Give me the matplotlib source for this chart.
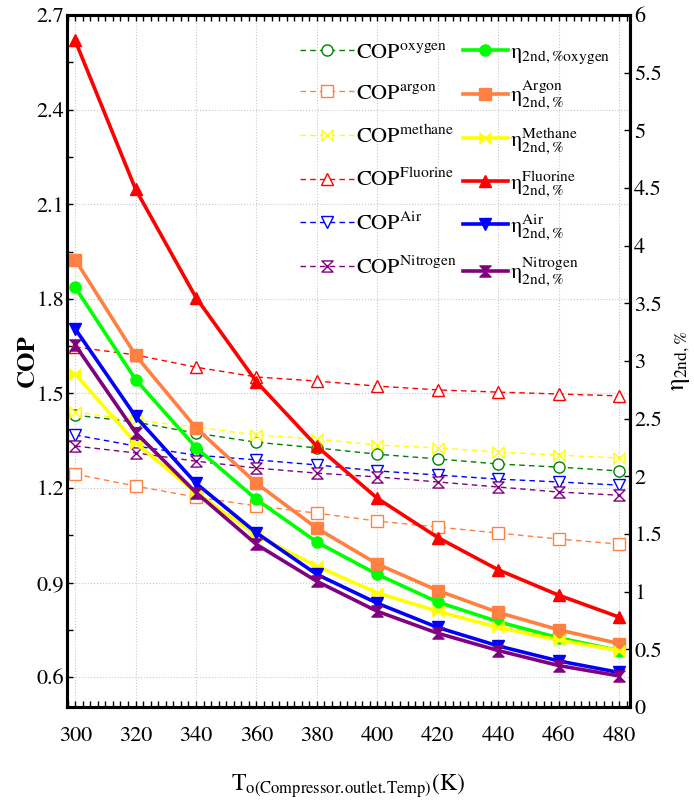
import matplotlib.pyplot as plt
import numpy as np
from matplotlib.path import Path
from matplotlib.ticker import MultipleLocator

plt.rcParams['font.family'] = 'STIXGeneral'
plt.rcParams['mathtext.fontset'] = 'stix'

# compressor outlet temperature (K)
T = [300, 320, 340, 360, 380, 400, 420, 440, 460, 480]

# COP (left axis)
cop_oxygen = [1.431, 1.409, 1.374, 1.345, 1.327, 1.307, 1.292, 1.276, 1.266, 1.254]
cop_argon = [1.244, 1.206, 1.171, 1.143, 1.120, 1.095, 1.076, 1.057, 1.038, 1.022]
cop_methane = [1.441, 1.415, 1.393, 1.368, 1.355, 1.336, 1.327, 1.314, 1.304, 1.295]
cop_fluorine = [1.647, 1.622, 1.583, 1.552, 1.539, 1.523, 1.511, 1.504, 1.498, 1.492]
cop_air = [1.368, 1.333, 1.304, 1.289, 1.273, 1.254, 1.241, 1.228, 1.219, 1.209]
cop_nitrogen = [1.333, 1.311, 1.285, 1.263, 1.247, 1.235, 1.219, 1.203, 1.187, 1.177]

# second law efficiency (right axis)
h_oxygen = [3.64, 2.84, 2.25, 1.80, 1.43, 1.15, 0.91, 0.74, 0.60, 0.49]
h_argon = [3.88, 3.05, 2.42, 1.94, 1.55, 1.24, 1.01, 0.82, 0.67, 0.55]
h_methane = [2.89, 2.29, 1.86, 1.49, 1.22, 0.99, 0.83, 0.69, 0.58, 0.49]
h_fluorine = [5.78, 4.49, 3.55, 2.82, 2.26, 1.81, 1.47, 1.19, 0.97, 0.78]
h_air = [3.28, 2.52, 1.94, 1.51, 1.15, 0.90, 0.69, 0.53, 0.40, 0.30]
h_nitrogen = [3.14, 2.38, 1.86, 1.41, 1.09, 0.83, 0.64, 0.49, 0.36, 0.27]

bowtie = Path([(-1, -1), (1, 1), (1, -1), (-1, 1), (-1, -1)],
              [Path.MOVETO, Path.LINETO, Path.LINETO, Path.LINETO, Path.CLOSEPOLY])
hourglass = Path([(-1, 1), (1, 1), (-1, -1), (1, -1), (-1, 1)],
                 [Path.MOVETO, Path.LINETO, Path.LINETO, Path.LINETO, Path.CLOSEPOLY])

fig = plt.figure(figsize=(6.94, 8.09), dpi=100)
ax = fig.add_axes([0.0965, 0.126, 0.8113, 0.8554])
ax2 = ax.twinx()

cop_series = [
    (cop_oxygen, 'green', 'o', 'oxygen'),
    (cop_argon, '#ff8040', 's', 'argon'),
    (cop_methane, 'yellow', bowtie, 'methane'),
    (cop_fluorine, 'red', '^', 'Fluorine'),
    (cop_air, 'blue', 'v', 'Air'),
    (cop_nitrogen, 'purple', hourglass, 'Nitrogen'),
]
h_series = [
    (h_oxygen, '#00ff00', 'o', None),
    (h_argon, '#ff8040', 's', 'Argon'),
    (h_methane, 'yellow', bowtie, 'Methane'),
    (h_fluorine, 'red', '^', 'Fluorine'),
    (h_air, 'blue', 'v', 'Air'),
    (h_nitrogen, 'purple', hourglass, 'Nitrogen'),
]

cop_lines = []
for y, c, m, name in cop_series:
    l, = ax.plot(T, y, color=c, ls=(0, (4, 3)), lw=1, marker=m, ms=8,
                 mfc='white', mec=c, mew=1, label='COP$^{\\rm ' + name + '}$')
    cop_lines.append(l)

h_lines = []
for y, c, m, name in h_series:
    if name is None:
        lab = r'$\mathrm{\eta}_{\rm 2nd,\%oxygen}$'
    else:
        lab = r'$\mathrm{\eta}_{\rm 2nd,\%}^{\rm ' + name + '}$'
    l, = ax2.plot(T, y, color=c, lw=2.6, marker=m, ms=8, mec=c, label=lab)
    h_lines.append(l)

ax.set_xlim(297.3, 483.6)
ax.set_ylim(0.505, 2.7)
ax2.set_ylim(0, 6)

ax.set_xticks(T)
ax.xaxis.set_minor_locator(MultipleLocator(2.5))
ax.set_yticks(np.arange(0.6, 2.71, 0.3))
ax.yaxis.set_minor_locator(MultipleLocator(0.15))
ax2.set_yticks(np.arange(0, 6.01, 0.5))
ax2.set_yticklabels(['0', '0.5', '1', '1.5', '2', '2.5', '3', '3.5', '4', '4.5', '5', '5.5', '6'])

ax.tick_params(which='both', direction='in', top=True, length=4, width=1, labelsize=16)
ax.tick_params(axis='x', pad=14)
ax.tick_params(axis='y', pad=2)
ax2.tick_params(direction='in', length=4, width=1, labelsize=16, pad=3)

ax.grid(True, color='#c8c8c8', ls=':', lw=0.8)
for a in (ax, ax2):
    for s in a.spines.values():
        s.set_linewidth(2.2)

ax.set_ylabel('COP', fontsize=18, fontweight='bold', labelpad=-2)
ax2.set_ylabel(r'$\mathrm{\eta}_{\rm 2nd,\%}$', fontsize=18, labelpad=4)
ax.set_xlabel(r'T$_{\rm o(Compressor.\!outlet.\!Temp)}$(K)', fontsize=17, labelpad=18)

leg1 = ax2.legend(handles=cop_lines, loc='upper left', bbox_to_anchor=(0.379, 0.99),
                  frameon=False, fontsize=16, handlelength=2.4, labelspacing=0.95,
                  handletextpad=0.1)
ax2.add_artist(leg1)
ax2.legend(handles=h_lines, loc='upper left', bbox_to_anchor=(0.668, 0.99),
           frameon=False, fontsize=16, handlelength=2.0, labelspacing=0.6,
           handletextpad=0.1)

fig.savefig('out.png', dpi=100)
